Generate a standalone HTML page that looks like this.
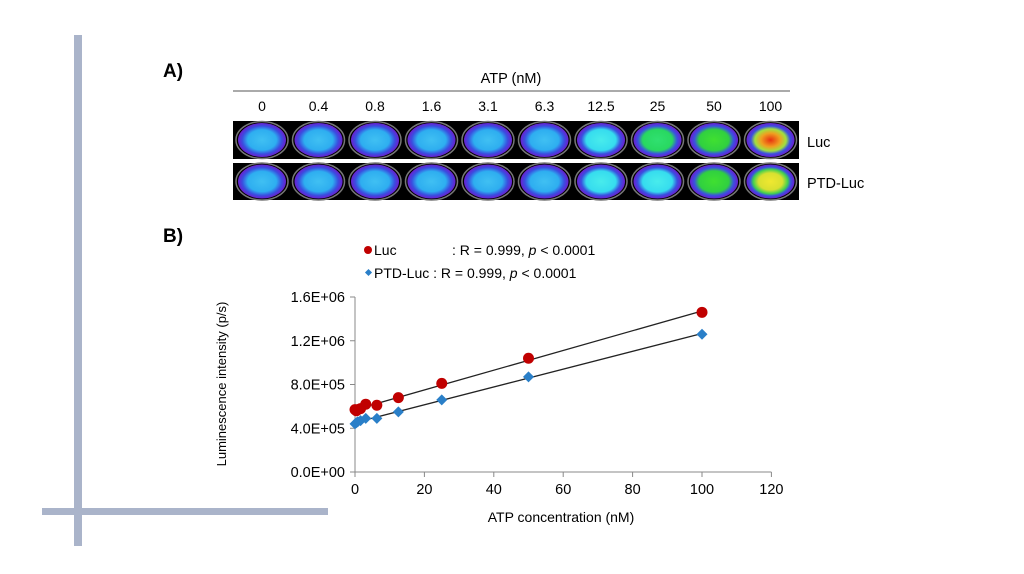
<!DOCTYPE html>
<html><head><meta charset="utf-8"><style>
body{margin:0;background:#fff;}
svg{display:block;font-family:"Liberation Sans",sans-serif;}
</style></head><body>
<svg id="s" width="1024" height="574" viewBox="0 0 1024 574">
<defs>
<radialGradient id="gBlue"><stop offset="0" stop-color="#40c0f2"/><stop offset="0.6" stop-color="#2eaef0"/><stop offset="0.82" stop-color="#3a4ee0"/><stop offset="1" stop-color="#6a1fd0"/></radialGradient>
<radialGradient id="gCyan"><stop offset="0" stop-color="#48ecec"/><stop offset="0.62" stop-color="#36dcee"/><stop offset="0.82" stop-color="#3a50e0"/><stop offset="1" stop-color="#6a1fd0"/></radialGradient>
<radialGradient id="gGreen1"><stop offset="0" stop-color="#30e070"/><stop offset="0.62" stop-color="#28d860"/><stop offset="0.82" stop-color="#3a50e0"/><stop offset="1" stop-color="#6a1fd0"/></radialGradient>
<radialGradient id="gGreen2"><stop offset="0" stop-color="#40e030"/><stop offset="0.62" stop-color="#30d040"/><stop offset="0.82" stop-color="#3a50e0"/><stop offset="1" stop-color="#6a1fd0"/></radialGradient>
<radialGradient id="gRed"><stop offset="0" stop-color="#e83010"/><stop offset="0.4" stop-color="#f0a020"/><stop offset="0.65" stop-color="#a0e040"/><stop offset="0.82" stop-color="#3a50e0"/><stop offset="1" stop-color="#6a1fd0"/></radialGradient>
<radialGradient id="gYellow"><stop offset="0" stop-color="#f0e830"/><stop offset="0.5" stop-color="#d8e030"/><stop offset="0.72" stop-color="#40d050"/><stop offset="0.85" stop-color="#3a50e0"/><stop offset="1" stop-color="#6a1fd0"/></radialGradient>
</defs>
<rect x="74" y="35" width="8" height="511" fill="#aab4ca"/>
<rect x="42" y="508" width="286" height="7" fill="#aab4ca"/>
<text x="163" y="77" font-size="19" font-weight="bold">A)</text>
<text x="511" y="83" font-size="14.5" text-anchor="middle">ATP (nM)</text>
<line x1="233" y1="91" x2="790" y2="91" stroke="#555" stroke-width="1"/>
<g id="conc"></g>
<rect x="233" y="121" width="566" height="38" fill="#000"/>
<rect x="233" y="163" width="566" height="37" fill="#000"/>
<g id="wells"></g>
<text x="807" y="147" font-size="14.5">Luc</text>
<text x="807" y="188" font-size="14.5">PTD-Luc</text>
<text x="163" y="242" font-size="19" font-weight="bold">B)</text>
<g>
<circle cx="368" cy="250" r="4" fill="#c00000"/>
<text x="374" y="255" font-size="14">Luc</text>
<text x="452" y="255" font-size="14">: R = 0.999, <tspan font-style="italic">p</tspan> &lt; 0.0001</text>
<rect x="366" y="270" width="5" height="5" fill="#2a7fc8" transform="rotate(45 368.5 272.5)"/>
<text x="374" y="278" font-size="14">PTD-Luc : R = 0.999, <tspan font-style="italic">p</tspan> &lt; 0.0001</text>
</g>
<text transform="translate(226 384) rotate(-90)" font-size="13" text-anchor="middle">Luminescence intensity (p/s)</text>
<text x="561" y="522" font-size="14" text-anchor="middle">ATP concentration (nM)</text>
<g id="chart"></g>
</svg>
<script>
const concLabels=["0","0.4","0.8","1.6","3.1","6.3","12.5","25","50","100"];
const lucFill=["gBlue","gBlue","gBlue","gBlue","gBlue","gBlue","gCyan","gGreen1","gGreen2","gRed"];
const ptdFill=["gBlue","gBlue","gBlue","gBlue","gBlue","gBlue","gCyan","gCyan","gGreen2","gYellow"];
const xVals=[0,0.4,0.8,1.6,3.1,6.3,12.5,25,50,100];
const lucVals=[570000,560000,570000,580000,620000,610000,680000,810000,1040000,1460000];
const ptdVals=[440000,450000,460000,470000,490000,490000,550000,660000,870000,1260000];
const xTicks=[0,20,40,60,80,100,120];
const yTicks=[0,400000,800000,1200000,1600000];
const yTickLabels=["0.0E+00","4.0E+05","8.0E+05","1.2E+06","1.6E+06"];
const NS="http://www.w3.org/2000/svg";
function mk(tag,attrs,parent){const e=document.createElementNS(NS,tag);for(const k in attrs)e.setAttribute(k,attrs[k]);parent.appendChild(e);return e;}
const sx=v=>355+v*3.47;
const sy=v=>472-v*(175/1600000);
const conc=document.getElementById('conc'),wells=document.getElementById('wells'),chart=document.getElementById('chart');
concLabels.forEach((l,i)=>{const cx=262+i*56.5;
 const t=mk('text',{x:cx,y:111,'font-size':14,'text-anchor':'middle'},conc);t.textContent=l;
 
 
 [[140,lucFill[i]],[181.5,ptdFill[i]]].forEach(([cy,f])=>{
  mk('ellipse',{cx:cx,cy:cy,rx:26,ry:18.5,fill:'none',stroke:'#777','stroke-width':1.5},wells);
  const w=mk('ellipse',{cx:cx,cy:cy,rx:24,ry:17,fill:'url(#'+f+')'},wells);
  
  
 });
});
mk('line',{x1:355,y1:sy(1600000),x2:355,y2:472,stroke:'#888'},chart);
mk('line',{x1:355,y1:472,x2:sx(120),y2:472,stroke:'#888'},chart);
yTicks.forEach((v,i)=>{mk('line',{x1:350,y1:sy(v),x2:355,y2:sy(v),stroke:'#888'},chart);
 const t=mk('text',{x:345,y:sy(v)+5,'font-size':14.5,'text-anchor':'end'},chart);t.textContent=yTickLabels[i];
 
 });
xTicks.forEach(v=>{mk('line',{x1:sx(v),y1:472,x2:sx(v),y2:477,stroke:'#888'},chart);
 const t=mk('text',{x:sx(v),y:494,'font-size':14.5,'text-anchor':'middle'},chart);t.textContent=v;
 
 });
function fit(ys){const n=xVals.length;let mx=0,my=0;for(let i=0;i<n;i++){mx+=xVals[i];my+=ys[i];}mx/=n;my/=n;let a=0,b=0;for(let i=0;i<n;i++){a+=(xVals[i]-mx)*(ys[i]-my);b+=(xVals[i]-mx)**2;}const s=a/b;return [my-s*mx,s];}
[[lucVals,'luc'],[ptdVals,'ptd']].forEach(([ys,nm])=>{const [c,s]=fit(ys);
 const l=mk('line',{x1:sx(0),y1:sy(c),x2:sx(100),y2:sy(c+s*100),stroke:'#222','stroke-width':1.3},chart);
 
 });
xVals.forEach((x,i)=>{
 const c=mk('circle',{cx:sx(x),cy:sy(lucVals[i]),r:5.5,fill:'#c00000'},chart);
 
 
 const px=sx(x),py=sy(ptdVals[i]);
 const d=mk('polygon',{points:`${px},${py-5.5} ${px+5.5},${py} ${px},${py+5.5} ${px-5.5},${py}`,fill:'#2a7fc8'},chart);
 
 
});
</script>
</body></html>
